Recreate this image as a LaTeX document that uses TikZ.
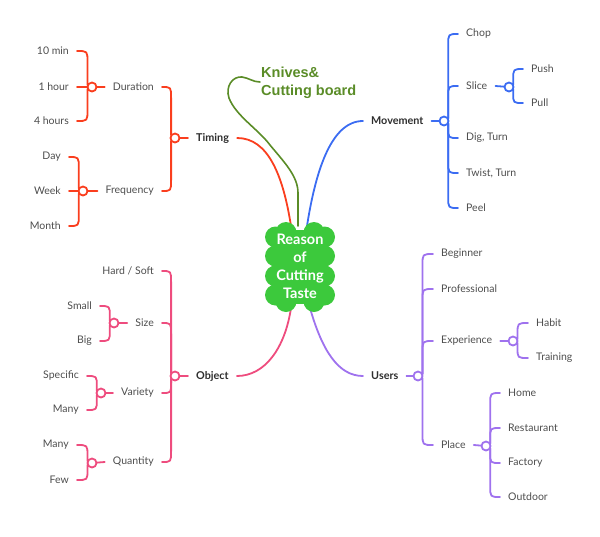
\documentclass[tikz,border=0pt]{standalone}
\usepackage{fontspec}
\usetikzlibrary{calc}
\setmainfont{Lato}
\newfontfamily\arialf{Liberation Sans}
\definecolor{cred}{HTML}{FA3E1E}
\definecolor{cblue}{HTML}{3B6CF2}
\definecolor{cpink}{HTML}{EE4C7E}
\definecolor{cpurple}{HTML}{9F72EE}
\definecolor{ccloud}{HTML}{3CC93C}
\definecolor{cknife}{HTML}{5A8C27}
\definecolor{txtgray}{HTML}{4D4D4D}
\definecolor{txtdark}{HTML}{2E2E2E}
\newcommand\mmbranch[3]{\draw[br,#1] let \p1=(#2), \p2=(#3),
   \n1={\y2-\y1}, \n2={\x2-\x1},
   \n3={min(6,0.3*abs(\n1))*sign(\n1)},
   \n4={min(11,0.6*abs(\n1))*sign(\n1)},
   \n5={\x1+0.3*\n2}
 in (\p1) .. controls ({\n5*1pt},\y1) .. ({\n5*1pt},{\y1+\n3*1pt})
   -- ({\n5*1pt},{\y2-\n4*1pt}) .. controls ({\n5*1pt},\y2) .. (\p2);}
\newcommand\mmstraight[3]{\draw[br,#1] (#2) -- (#3);}
\begin{document}
\begin{tikzpicture}[x=1pt,y=-1pt,
  lab/.style={font=\fontsize{10.5}{12}\selectfont, text=txtgray, inner xsep=8pt, inner ysep=1pt},
  main/.style={font=\bfseries\fontsize{10.8}{12}\selectfont, text=txtdark, inner xsep=8pt, inner ysep=1pt},
  br/.style={line width=1.8pt, line cap=round, line join=round},
  dot/.style={circle, draw, fill=white, line width=1.8pt, minimum size=9pt, inner sep=0pt},
]
\useasboundingbox (0,0) rectangle (600,536);

% ---------- Timing (red) ----------
\node[main, anchor=west] (timing) at (188,138) {Timing};
\node[lab, anchor=east] (duration) at (162,87) {Duration};
\node[lab, anchor=east] (frequency) at (162,191) {Frequency};
\node[lab, anchor=east] (t10) at (77,51) {10 min};
\node[lab, anchor=east] (t1h) at (77,87) {1 hour};
\node[lab, anchor=east] (t4h) at (77,121) {4 hours};
\node[lab, anchor=east] (fday) at (69,157) {Day};
\node[lab, anchor=east] (fweek) at (69,191) {Week};
\node[lab, anchor=east] (fmonth) at (69,226) {Month};
\coordinate (cT) at (175,138);
\coordinate (cD) at (92,87);
\coordinate (cF) at (83,191);
\mmbranch{cred}{cT}{duration.east}
\mmbranch{cred}{cT}{frequency.east}
\draw[br,cred] (cT) -- (timing.west);
\mmbranch{cred}{cD}{t10.east}
\mmstraight{cred}{cD}{t1h.east}
\mmbranch{cred}{cD}{t4h.east}
\draw[br,cred] (cD) -- (duration.west);
\mmbranch{cred}{cF}{fday.east}
\mmstraight{cred}{cF}{fweek.east}
\mmbranch{cred}{cF}{fmonth.east}
\draw[br,cred] (cF) -- (frequency.west);
\node[dot,draw=cred] (dT) at (cT) {};
\node[dot,draw=cred] (dD) at (cD) {};
\node[dot,draw=cred] (dF) at (cF) {};

% ---------- Movement (blue) ----------
\node[main, anchor=west] (movement) at (363,121) {Movement};
\node[lab, anchor=west] (chop) at (458,34) {Chop};
\node[lab, anchor=west] (slice) at (458,86) {Slice};
\node[lab, anchor=west] (dig) at (458,138) {Dig, Turn};
\node[lab, anchor=west] (twist) at (458,173) {Twist, Turn};
\node[lab, anchor=west] (peel) at (458,208) {Peel};
\node[lab, anchor=west] (push) at (523,69) {Push};
\node[lab, anchor=west] (pull) at (523,103) {Pull};
\coordinate (cM) at (444,121);
\coordinate (cS) at (509,87);
\foreach \k in {chop,slice,dig,twist,peel}{\mmbranch{cblue}{cM}{\k.west}}
\draw[br,cblue] (cM) -- (movement.east);
\mmbranch{cblue}{cS}{push.west}
\mmbranch{cblue}{cS}{pull.west}
\draw[br,cblue] (cS) -- (slice.east);
\node[dot,draw=cblue] (dM) at (cM) {};
\node[dot,draw=cblue] (dS) at (cS) {};

% ---------- Object (pink) ----------
\node[main, anchor=west] (object) at (188,376) {Object};
\node[lab, anchor=east] (hard) at (162,271) {Hard / Soft};
\node[lab, anchor=east] (size) at (162,323) {Size};
\node[lab, anchor=east] (variety) at (162,393) {Variety};
\node[lab, anchor=east] (quantity) at (162,462) {Quantity};
\node[lab, anchor=east] (small) at (100,306) {Small};
\node[lab, anchor=east] (big) at (100,341) {Big};
\node[lab, anchor=east] (specific) at (87,376) {Specific};
\node[lab, anchor=east] (manyv) at (87,410) {Many};
\node[lab, anchor=east] (manyq) at (77,445) {Many};
\node[lab, anchor=east] (few) at (77,480) {Few};
\coordinate (cO) at (175,376);
\coordinate (cSz) at (114,323);
\coordinate (cV) at (101,393);
\coordinate (cQ) at (92,463);
\foreach \k in {hard,size,variety,quantity}{\mmbranch{cpink}{cO}{\k.east}}
\draw[br,cpink] (cO) -- (object.west);
\mmbranch{cpink}{cSz}{small.east}
\mmbranch{cpink}{cSz}{big.east}
\draw[br,cpink] (cSz) -- (size.west);
\mmbranch{cpink}{cV}{specific.east}
\mmbranch{cpink}{cV}{manyv.east}
\draw[br,cpink] (cV) -- (variety.west);
\mmbranch{cpink}{cQ}{manyq.east}
\mmbranch{cpink}{cQ}{few.east}
\draw[br,cpink] (cQ) -- (quantity.west);
\node[dot,draw=cpink] (dO) at (cO) {};
\node[dot,draw=cpink] (dSz) at (cSz) {};
\node[dot,draw=cpink] (dV) at (cV) {};
\node[dot,draw=cpink] (dQ) at (cQ) {};

% ---------- Users (purple) ----------
\node[main, anchor=west] (users) at (363,376) {Users};
\node[lab, anchor=west] (beginner) at (433,254) {Beginner};
\node[lab, anchor=west] (professional) at (433,289) {Professional};
\node[lab, anchor=west] (experience) at (433,341) {Experience};
\node[lab, anchor=west] (place) at (433,445) {Place};
\node[lab, anchor=west] (habit) at (528,323) {Habit};
\node[lab, anchor=west] (training) at (528,358) {Training};
\node[lab, anchor=west] (home) at (500,393) {Home};
\node[lab, anchor=west] (restaurant) at (500,428) {Restaurant};
\node[lab, anchor=west] (factory) at (500,463) {Factory};
\node[lab, anchor=west] (outdoor) at (500,497) {Outdoor};
\coordinate (cU) at (418,376);
\coordinate (cE) at (513,341);
\coordinate (cP) at (486,446);
\foreach \k in {beginner,professional,experience,place}{\mmbranch{cpurple}{cU}{\k.west}}
\draw[br,cpurple] (cU) -- (users.east);
\mmbranch{cpurple}{cE}{habit.west}
\mmbranch{cpurple}{cE}{training.west}
\draw[br,cpurple] (cE) -- (experience.east);
\foreach \k in {home,restaurant,factory,outdoor}{\mmbranch{cpurple}{cP}{\k.west}}
\draw[br,cpurple] (cP) -- (place.east);
\node[dot,draw=cpurple] (dU) at (cU) {};
\node[dot,draw=cpurple] (dE) at (cE) {};
\node[dot,draw=cpurple] (dP) at (cP) {};

% ---------- Knives (green) ----------
\node[anchor=north west, inner sep=0pt, align=left, text=cknife,
      font=\arialf\bfseries\fontsize{14.5}{18}\selectfont] (knives) at (261,67) {Knives\&\\Cutting board};
\coordinate (kend) at (260,82);

% ---------- main connectors ----------
\coordinate (rT) at (291,226);
\coordinate (rM) at (307,226);
\coordinate (rO) at (291,308);
\coordinate (rU) at (310,308);
\coordinate (rK) at (298,226);
\draw[br,cred] (rT) .. controls (283,175) and (268,138) .. (timing.east);
\draw[br,cblue] (rM) .. controls (315,175) and (330,121) .. (movement.west);
\draw[br,cpink] (rO) .. controls (285,348) and (265,376) .. (object.east);
\draw[br,cpurple] (rU) .. controls (322,350) and (338,376) .. (users.west);
\draw[line width=1.6pt,cknife,line cap=round] (rK) -- (298,193) .. controls (298,176) and (284,162) .. (270,145)
   .. controls (258,129) and (236,116) .. (229,98) .. controls (225,86) and (233,76) .. (242,77)
   .. controls (249,78) and (253,82) .. (kend);

% ---------- center cloud ----------
\begin{scope}[fill=ccloud]
  \fill (273,230) rectangle (327,304);
  \foreach \yy in {237,256,276,295}{\fill (275.5,\yy) circle (10.5); \fill (324.5,\yy) circle (10.5);}
  \fill (286,232.5) circle (10.5); \fill (314,232.5) circle (10.5);
  \fill (286,301.5) circle (10.5); \fill (314,301.5) circle (10.5);
\end{scope}
\node[align=center, text=white, font=\bfseries\fontsize{14.5}{18}\selectfont, inner sep=0pt] (center) at (300,266) {Reason\\of\\Cutting\\Taste};
\end{tikzpicture}
\end{document}
